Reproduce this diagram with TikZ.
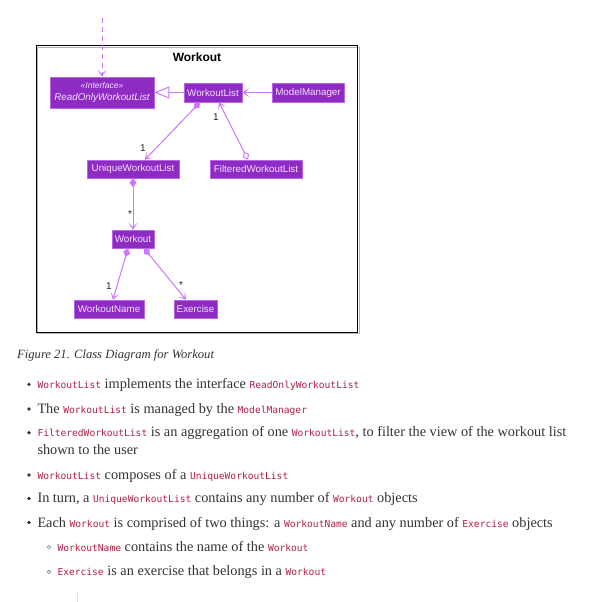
\documentclass[tikz,border=0pt]{standalone}
\usepackage{fontspec}
\setmainfont{Liberation Serif}
\setsansfont{Liberation Sans}
\setmonofont{DejaVu Sans Mono}
\usetikzlibrary{arrows.meta}
\definecolor{clsfill}{HTML}{8E2BC3}
\definecolor{clsborder}{HTML}{B867E6}
\definecolor{clstext}{HTML}{F3E0FF}
\definecolor{arrowcol}{HTML}{CC77FF}
\definecolor{codecol}{HTML}{B12146}
\definecolor{bodycol}{HTML}{333333}
\newcommand{\cde}[1]{{\ttfamily\fontsize{9.6}{12}\selectfont\color{codecol}#1}}
\tikzset{
  cls/.style={draw=clsborder, line width=0.6, fill=clsfill, text=clstext,
    font=\sffamily\fontsize{9.8}{11.5}\selectfont, inner sep=0pt, minimum height=18},
  conn/.style={draw=arrowcol, line width=1},
  headtip/.style={-{Stealth[length=7pt,width=9pt,inset=4.5pt]}},
  assoc/.style={conn, headtip},
  real/.style={conn, -{Triangle[open, length=15pt, width=12pt, fill=white]}},
  comp/.style={conn, {Diamond[length=9pt,width=7pt]}-{Stealth[length=7pt,width=9pt,inset=4.5pt]}},
  agg/.style={conn, {Diamond[open,fill=white,length=9pt,width=7pt]}-{Stealth[length=7pt,width=9pt,inset=4.5pt]}},
  mult/.style={font=\sffamily\fontsize{10}{12}\selectfont, text=black!85, inner sep=0pt},
  txt/.style={font=\fontsize{14.3}{17}\selectfont, text=bodycol, inner sep=0pt, anchor=base west},
  bdot/.style={circle, fill=bodycol, inner sep=0pt, minimum size=3.6},
  sdot/.style={circle, draw=bodycol!70, line width=0.5, inner sep=0pt, minimum size=3.6},
}
\begin{document}
\begin{tikzpicture}[x=1pt,y=-1pt]
\useasboundingbox (0,0) rectangle (601,602);
\fill[white] (0,0) rectangle (601,602);
% package frame
\draw[black!30, line width=1] (37.5,47.5) rectangle (359,333.5);
\node[draw=black, line width=1, minimum width=321, minimum height=286, inner sep=0pt] (pkg) at (197,189) {};
\node[font=\sffamily\bfseries\fontsize{12}{14}\selectfont, inner sep=0pt] (title) at (197,57) {Workout};
% classes
\node[cls, minimum width=104, minimum height=31, align=center, font=\sffamily\itshape\fontsize{9.8}{11.5}\selectfont] (iface) at (102,92.5)
  {{\fontsize{8.5}{10}\selectfont\guillemotleft Interface\guillemotright}\\ReadOnlyWorkoutList};
\node[cls, minimum width=58, minimum height=19] (wl) at (213,92.5) {WorkoutList};
\node[cls, minimum width=72, minimum height=19] (mm) at (308,92.5) {ModelManager};
\node[cls, minimum width=92] (uwl) at (133,169) {UniqueWorkoutList};
\node[cls, minimum width=92] (fwl) at (256,169) {FilteredWorkoutList};
\node[cls, minimum width=42] (wo) at (133,239) {Workout};
\node[cls, minimum width=70] (wn) at (109,309) {WorkoutName};
\node[cls, minimum width=43] (ex) at (195.5,309) {Exercise};
% connectors
\coordinate (top) at (102,18);
\draw[assoc, dash pattern=on 5pt off 4pt] (top) -- (iface.north);
\draw[real] (wl.west) -- (iface.east);
\draw[assoc] (mm.west) -- (wl.east);
\draw[comp] ([xshift=-13]wl.south) -- ([xshift=12]uwl.north);
\draw[agg] ([xshift=-8]fwl.north) -- ([xshift=6]wl.south);
\draw[comp] (uwl.south) -- (wo.north);
\draw[comp] ([xshift=-5]wo.south) -- ([xshift=4]wn.north);
\draw[comp] ([xshift=11]wo.south) -- ([xshift=-9.5]ex.north);
% multiplicities
\node[mult] (m1) at (143,148) {1};
\node[mult] (m2) at (216,117) {1};
\node[mult] (m3) at (130,214) {*};
\node[mult] (m4) at (109,286) {1};
\node[mult] (m5) at (181,285) {*};
% caption
\node[txt, font=\itshape\fontsize{12.6}{15}\selectfont] (cap) at (17,358.3) {Figure 21. Class Diagram for Workout};
% bullets
\node[bdot] (d1) at (29,384.3) {};
\node[txt] (b1) at (37.3,388.3) {\cde{WorkoutList} implements the interface \cde{ReadOnlyWorkoutList}};
\node[bdot] (d2) at (29,409) {};
\node[txt] (b2) at (37.3,413.3) {The \cde{WorkoutList} is managed by the \cde{ModelManager}};
\node[bdot] (d3) at (29,432.7) {};
\node[txt] (b3) at (37.3,436.7) {\cde{FilteredWorkoutList} is an aggregation of one \cde{WorkoutList}, to filter the view of the workout list};
\node[txt] (b3b) at (37.3,454.3) {shown to the user};
\node[bdot] (d4) at (29,475) {};
\node[txt] (b4) at (37.3,479) {\cde{WorkoutList} composes of a \cde{UniqueWorkoutList}};
\node[bdot] (d5) at (29,498.5) {};
\node[txt] (b5) at (37.3,502.7) {In turn, a \cde{UniqueWorkoutList} contains any number of \cde{Workout} objects};
\node[bdot] (d6) at (29,522.5) {};
\node[txt] (b6) at (37.3,527) {Each \cde{Workout} is comprised of two things: a \cde{WorkoutName} and any number of \cde{Exercise} objects};
\node[sdot] (s1) at (49,547.3) {};
\node[txt] (c1) at (57.3,551.5) {\cde{WorkoutName} contains the name of the \cde{Workout}};
\node[sdot] (s2) at (49,571.7) {};
\node[txt] (c2) at (57.3,575.7) {\cde{Exercise} is an exercise that belongs in a \cde{Workout}};
% faint mark
\coordinate (fa) at (77.7,593);
\coordinate (fb) at (77.7,602);
\draw[black!12, line width=0.6] (fa) -- (fb);
\end{tikzpicture}
\end{document}
